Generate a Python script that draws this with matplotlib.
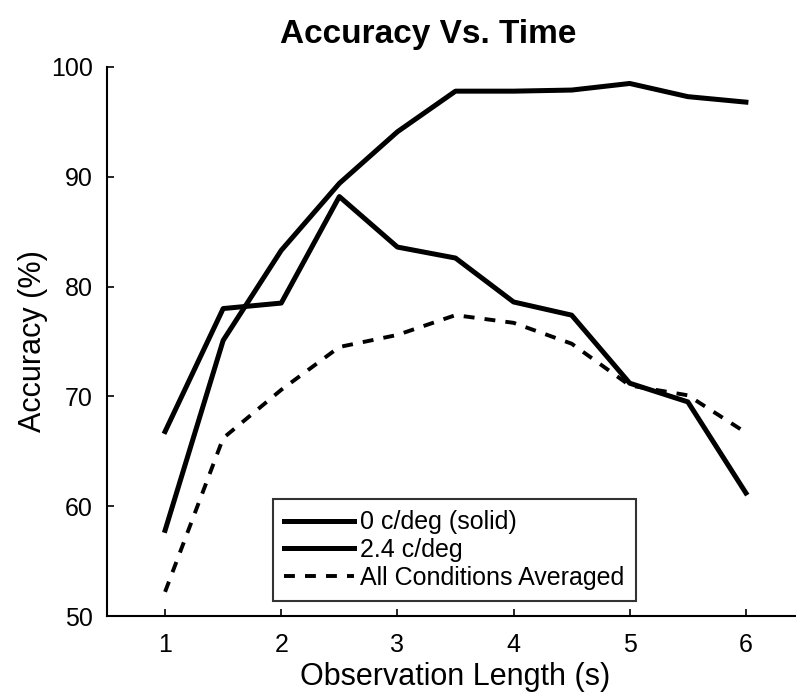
import numpy as np
import matplotlib
matplotlib.use("Agg")
import matplotlib.pyplot as plt

plt.rcParams['font.family'] = ['Liberation Sans', 'DejaVu Sans']

# observation length (s)
t = [1, 1.5, 2, 2.5, 3, 3.5, 4, 4.5, 5, 5.5, 6]

acc_0cpd = [57.8, 75.1, 83.3, 89.4, 94.1, 97.8, 97.8, 97.9, 98.5, 97.3, 96.8]
acc_24cpd = [66.8, 78.0, 78.5, 88.2, 83.6, 82.6, 78.6, 77.4, 71.2, 69.5, 61.2]
acc_avg = [52.2, 66.2, 70.6, 74.5, 75.6, 77.4, 76.7, 74.8, 71.0, 70.1, 66.7]

labels = ["0 c/deg (solid)", "2.4 c/deg", "All Conditions Averaged"]

fig = plt.figure(figsize=(7.96, 6.94), dpi=100)
ax = fig.add_axes([107/796, 78/694, 697/796, 549/694])

ax.plot(t, acc_0cpd, color='black', lw=3.6, label=labels[0])
ax.plot(t, acc_24cpd, color='black', lw=3.6, label=labels[1])
ax.plot(t, acc_avg, color='black', lw=2.8, ls=(0, (2.8, 2.6)), label=labels[2])

ax.set_xlim(0.5, 6.5)
ax.set_ylim(50, 100)
ax.set_xticks([1, 2, 3, 4, 5, 6])
ax.set_yticks([50, 60, 70, 80, 90, 100])
ax.tick_params(direction='in', length=5, width=1.2, labelsize=18, pad=12)
ax.tick_params(axis='y', pad=10)
for s in ['top', 'right']:
    ax.spines[s].set_visible(False)
for s in ['left', 'bottom']:
    ax.spines[s].set_linewidth(1.5)

ax.set_xlabel("Observation Length (s)", fontsize=22, labelpad=4)
ax.set_ylabel("Accuracy (%)", fontsize=22, labelpad=2)
fig.text(428/796, 1 - 34/694, "Accuracy Vs. Time", fontsize=24, fontweight='bold',
         ha='center', va='center')

leg = ax.legend(loc='lower left', bbox_to_anchor=(166/697, 15/549), fontsize=18,
                frameon=True, fancybox=False, edgecolor='black', borderpad=0.45,
                handlelength=2.8, handletextpad=0.25, labelspacing=0.15,
                borderaxespad=0)
leg.get_frame().set_linewidth(1.5)

fig.savefig("out.png", dpi=100)
